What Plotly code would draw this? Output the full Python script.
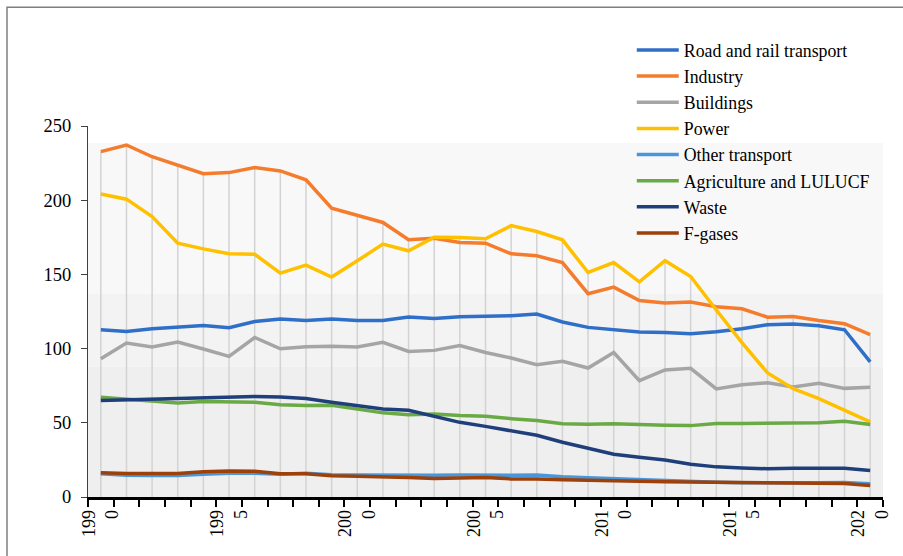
import numpy as np
import plotly.graph_objects as go

years = list(range(1990, 2021))

road_rail = [112.7, 111.6, 113.4, 114.7, 115.6, 114.1, 118.3, 120.0, 119.0, 120.0, 119.0,
             119.0, 121.3, 120.3, 121.5, 121.8, 122.1, 123.3, 117.9, 114.3, 112.7, 111.2,
             110.9, 110.0, 111.4, 113.4, 116.1, 116.5, 115.4, 112.7, 91.0]
industry = [232.7, 237.2, 229.3, 223.8, 217.9, 218.6, 222.0, 219.7, 213.7, 194.6, 190.1,
            185.0, 173.3, 174.4, 171.5, 171.0, 163.9, 162.5, 158.0, 137.0, 141.4, 132.4,
            130.7, 131.4, 128.2, 126.8, 121.2, 121.7, 119.0, 116.8, 109.4]
buildings = [93.2, 103.8, 101.1, 104.4, 99.7, 94.8, 107.5, 99.9, 101.3, 101.5, 101.1,
             104.2, 98.1, 98.8, 102.0, 97.4, 93.7, 89.2, 91.4, 86.9, 97.4, 78.4,
             85.6, 86.7, 72.8, 75.7, 77.0, 74.2, 76.6, 73.2, 73.9]
power = [204.2, 200.7, 189.0, 171.0, 167.2, 163.9, 163.6, 150.9, 156.2, 148.2, 159.2,
         170.4, 165.9, 175.1, 174.9, 174.0, 182.9, 178.9, 173.3, 151.3, 158.0, 145.0,
         159.2, 148.6, 126.0, 104.0, 83.6, 73.0, 66.3, 58.4, 50.6]
other_transport = [15.6, 14.7, 14.5, 14.5, 15.3, 16.0, 16.0, 15.3, 16.0, 15.0, 14.9,
                   14.7, 14.7, 14.7, 14.9, 14.7, 14.7, 14.9, 13.6, 12.9, 12.2, 11.8,
                   10.9, 10.2, 9.9, 9.6, 9.4, 9.6, 9.6, 9.8, 8.9]
agriculture = [67.2, 66.1, 64.9, 63.4, 64.3, 64.1, 63.8, 62.2, 61.6, 61.8, 59.3,
               56.7, 55.5, 56.0, 55.0, 54.4, 52.8, 51.5, 49.3, 49.0, 49.3, 48.6,
               48.3, 48.1, 49.5, 49.5, 49.7, 49.9, 50.1, 51.0, 48.8]
waste = [65.1, 65.6, 66.1, 66.5, 66.8, 67.6, 67.8, 67.4, 66.3, 63.8, 61.4,
         59.3, 58.4, 54.4, 50.3, 47.6, 44.8, 41.6, 36.9, 33.1, 28.8, 26.8,
         25.0, 22.1, 20.3, 19.6, 19.0, 19.4, 19.4, 19.4, 17.8]
f_gases = [16.3, 15.8, 15.9, 15.9, 17.0, 17.6, 17.4, 15.6, 15.6, 14.3, 14.0,
           13.8, 13.1, 12.4, 12.7, 13.1, 12.2, 12.2, 11.6, 11.1, 11.0, 10.6,
           10.2, 10.0, 9.8, 9.8, 9.3, 9.1, 9.3, 9.1, 7.7]

series_names = ["Road and rail transport", "Industry", "Buildings", "Power",
                "Other transport", "Agriculture and LULUCF", "Waste", "F-gases"]
series_values = [road_rail, industry, buildings, power, other_transport,
                 agriculture, waste, f_gases]
series_colors = ["#2F6FC8", "#F47C2C", "#A5A5A5", "#FFC000",
                 "#4A96DA", "#6AAA45", "#1F3F7A", "#9E400A"]

tick_years = [1990, 1995, 2000, 2005, 2010, 2015, 2020]
tick_text = ["199<br>0", "199<br>5", "200<br>0", "200<br>5", "201<br>0", "201<br>5", "202<br>0"]
y_ticks = [0, 50, 100, 150, 200, 250]

FONT = "Liberation Serif, Times New Roman, serif"

fig = go.Figure()

# drop lines from the highest series down to the axis
tops = np.max(np.array(series_values), axis=0)
dx, dy = [], []
for yr, t in zip(years, tops):
    dx += [yr, yr, None]
    dy += [t, 0, None]
fig.add_trace(go.Scatter(x=dx, y=dy, mode="lines", showlegend=False, hoverinfo="skip",
                         line=dict(color="#D3D3D3", width=1.5)))

for name, vals, col in zip(series_names, series_values, series_colors):
    fig.add_trace(go.Scatter(x=years, y=vals, name=name, mode="lines",
                             line=dict(color=col, width=3.5)))

# plot-area gradient bands and outer border
bands = [(0.954, 0.548, "#F8F8F8"), (0.548, 0.351, "#F3F3F3"), (0.351, 0.0, "#EFEFEF")]
shapes = []
for top, bot, col in bands:
    shapes.append(dict(type="rect", xref="paper", yref="paper", x0=0, x1=1, y0=bot, y1=top,
                       fillcolor=col, line=dict(width=0), layer="below"))
shapes.append(dict(type="rect", xref="paper", yref="paper", x0=-0.1019, x1=1.2,
                   y0=-0.5, y1=1.3203, line=dict(color="#7F7F7F", width=1.5),
                   fillcolor="rgba(0,0,0,0)", layer="below"))

fig.update_layout(
    width=903, height=556,
    margin=dict(l=88, r=20, t=126, b=58.5),
    paper_bgcolor="white", plot_bgcolor="rgba(0,0,0,0)",
    font=dict(family=FONT, size=18, color="black"),
    shapes=shapes,
    showlegend=True,
    legend=dict(x=0.684, y=1.2536, xanchor="left", yanchor="top",
                bgcolor="rgba(0,0,0,0)", borderwidth=0, itemwidth=42,
                font=dict(family=FONT, size=17.8, color="black"),
                tracegroupgap=0),
    xaxis=dict(range=[1989.5, 2020.5], tickmode="array", tickvals=tick_years,
               ticktext=tick_text, tickangle=-90, ticks="outside", ticklen=3,
               tickcolor="rgba(0,0,0,0)", showgrid=False, zeroline=False,
               showline=True, linecolor="black", linewidth=2.5,
               tickfont=dict(family=FONT, size=18, color="black"),
               minor=dict(tick0=1989.5, dtick=1, ticks="outside", ticklen=7,
                          tickwidth=1.5, tickcolor="black", showgrid=False)),
    yaxis=dict(range=[0, 250], tickmode="array", tickvals=y_ticks, ticks="outside",
               ticklen=6, tickcolor="#404040", tickwidth=1, showgrid=False,
               zeroline=False, showline=True, linecolor="#404040", linewidth=1,
               ticklabelstandoff=6,
               tickfont=dict(family=FONT, size=18.5, color="black")),
)

fig.write_html("out.html")
